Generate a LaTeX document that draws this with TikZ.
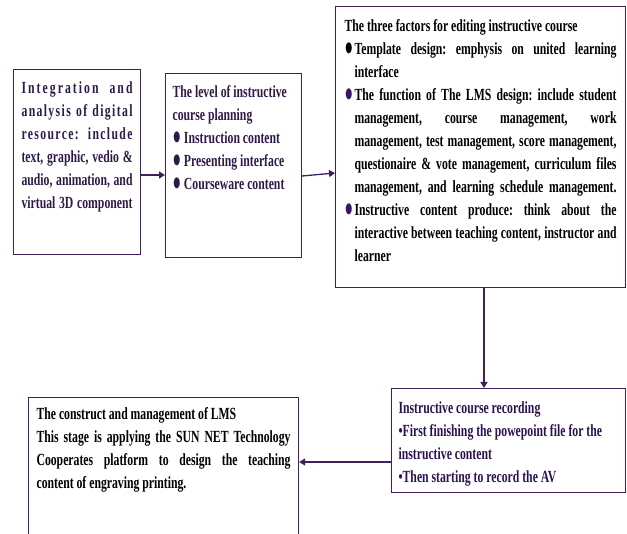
\documentclass[tikz,border=0pt]{standalone}
\usepackage{fontspec}
\setmainfont{Liberation Serif}[FakeStretch=0.69]
\usetikzlibrary{arrows.meta}
\frenchspacing
\definecolor{boxcol}{HTML}{3F1F5C}
\definecolor{ptext}{HTML}{2E1A48}
\definecolor{itext}{HTML}{2A1250}
\definecolor{bulcol}{HTML}{3A1566}
\newcommand\blt[1][bulcol]{\raisebox{-1.3pt}{\textcolor{#1}{\scalebox{1.2}[1.5]{●}}}}
\newcommand\jl[1]{\makebox[\linewidth][s]{#1}\par}
\newcommand\bjl[2][bulcol]{\noindent\makebox[10pt][l]{\blt[#1]}\makebox[\dimexpr\linewidth-10pt\relax][s]{#2}\par}
\newcommand\ijl[1]{\noindent\hspace*{10pt}\makebox[\dimexpr\linewidth-10pt\relax][s]{#1}\par}
\newcommand\ilast[1]{\noindent\hspace*{10pt}#1\par}
\tikzset{
  box/.style={draw=boxcol, line width=1.1pt, anchor=north west, inner ysep=0pt, inner xsep=8pt, font=\fontsize{17}{23}\selectfont\bfseries\frenchspacing},
  arr/.style={draw=boxcol, line width=1.3pt, -{Triangle[length=6pt,width=7pt]}}
}
\begin{document}
\begin{tikzpicture}[x=1pt,y=-1pt]
\useasboundingbox (0,0) rectangle (627,534);

\node[box, text=ptext, minimum width=127pt, minimum height=185pt] (b1) at (13,69)
{\parbox[t][185pt][t]{111pt}{%
\rule{0pt}{24pt}\jl{\addfontfeature{LetterSpace=12}Integration and}
\jl{\addfontfeature{LetterSpace=8}analysis of digital}
\jl{\addfontfeature{LetterSpace=8}resource: include}
\jl{text, graphic, vedio \&}
\jl{audio, animation, and}
\jl{virtual 3D component}}};

\node[box, text=ptext, inner xsep=7pt, minimum width=136pt, minimum height=184pt] (b2) at (165,73)
{\parbox[t][184pt][t]{122pt}{\raggedright
\rule{0pt}{24pt}The level of instructive\\
course planning\\
\blt[ptext]\ Instruction content\\
\blt[ptext]\ Presenting interface\\
\blt[ptext]\ Courseware content}};

\node[box, text=black, inner xsep=9pt, minimum width=290pt, minimum height=281pt] (b3) at (335,6)
{\parbox[t][281pt][t]{272pt}{%
\rule{0pt}{25pt}The three factors for editing instructive course\par
\bjl[black]{Template design: emphysis on united learning}
\ilast{interface}
\bjl{The function of The LMS design: include student}
\ijl{management, course management, work}
\ijl{management, test management, score management,}
\ijl{questionaire \& vote management, curriculum files}
\ijl{management, and learning schedule management.}
\bjl{Instructive content produce: think about the}
\ijl{interactive between teaching content, instructor and}
\ilast{learner}}};

\node[box, text=itext, inner xsep=7pt, minimum width=234pt, minimum height=104pt] (b4) at (391,388)
{\parbox[t][104pt][t]{220pt}{\raggedright
\rule{0pt}{25pt}Instructive course recording\\
•First finishing the powepoint file for the\\
instructive content\\
•Then starting to record the AV}};

\node[box, text=black, minimum width=270pt, minimum height=150pt] (b5) at (28,397)
{\parbox[t][150pt][t]{254pt}{%
\rule{0pt}{22pt}The construct and management of LMS\par
\jl{This stage is applying the SUN NET Technology}
\jl{Cooperates platform to design the teaching}
content of engraving printing.}};

\draw[arr] (b1.east |- 0,175) -- (b2.west |- 0,175);
\draw[arr] (b2.east |- 0,176) -- (b3.west |- 0,173);
\draw[arr] (b3.south -| 484,0) -- (b4.north -| 484,0);
\draw[arr] (b4.west |- 0,462) -- (b5.east |- 0,462);
\end{tikzpicture}
\end{document}
